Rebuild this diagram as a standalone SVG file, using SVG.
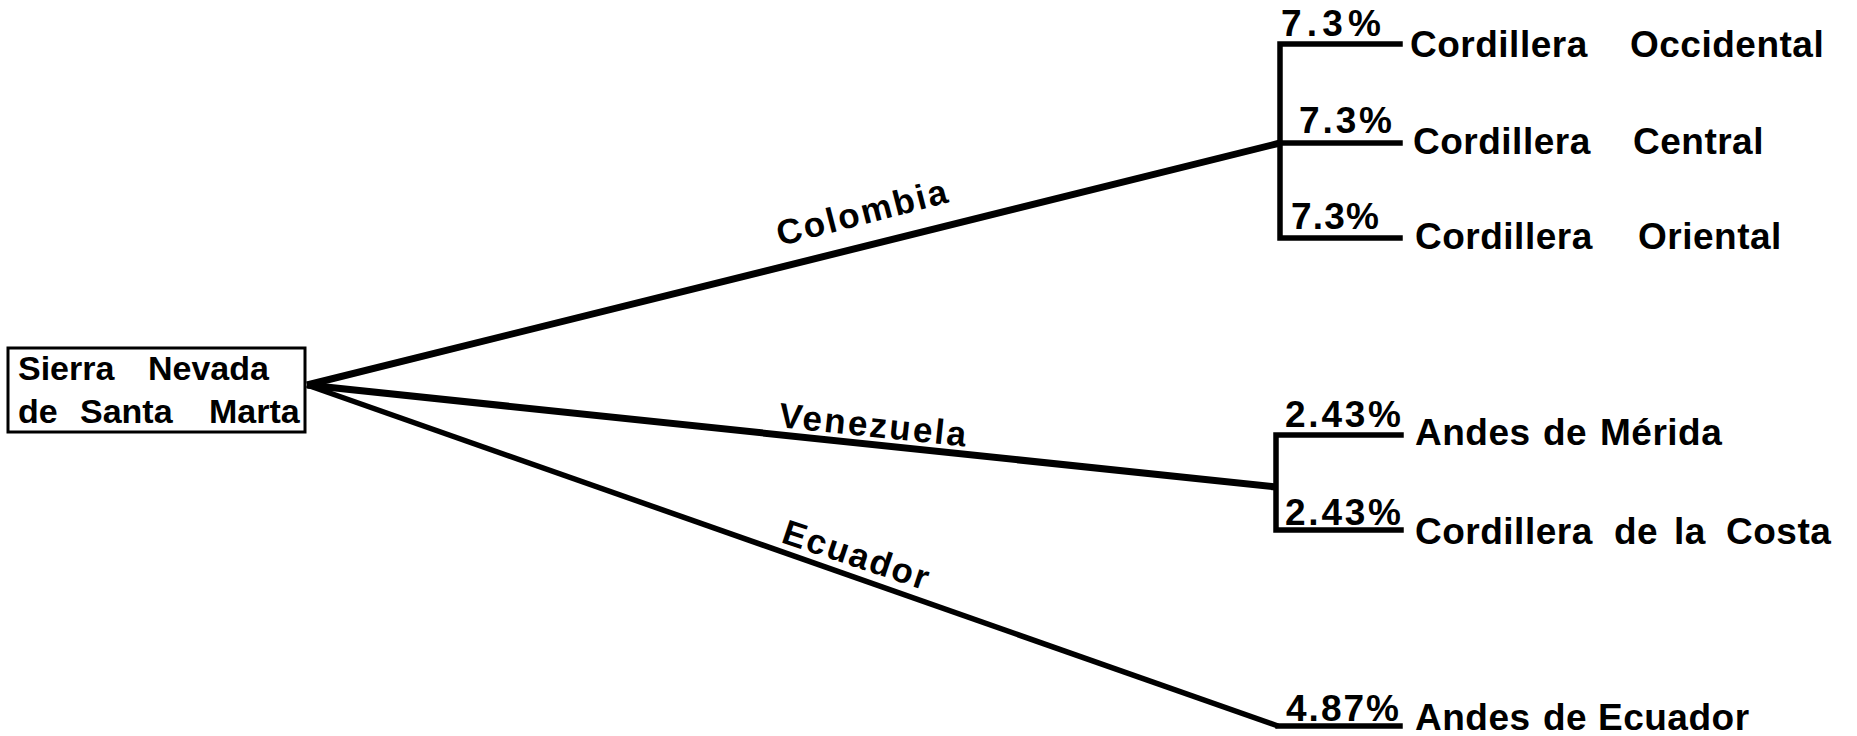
<svg xmlns="http://www.w3.org/2000/svg" width="1857" height="736" viewBox="0 0 1857 736">
<style>
  .t{font-family:"Liberation Sans",Arial,Helvetica,sans-serif;font-weight:bold;fill:#000}
  .pct{font-size:37px}
  .name{font-size:37px;letter-spacing:0.5px}
  .edge{font-size:35px}
  .boxt{font-size:34px}
  .conn{stroke:#000;fill:none;stroke-linecap:butt}
  .br{stroke:#000;fill:none;stroke-width:5.5;stroke-linecap:square}
</style>
<rect width="1857" height="736" fill="#fff"/>

<g id="connectors">
  <line class="conn" x1="307" y1="385" x2="1280" y2="143" stroke-width="7"/>
  <line class="conn" x1="307" y1="385" x2="1276" y2="487" stroke-width="7"/>
  <line class="conn" x1="307" y1="385" x2="1278" y2="726" stroke-width="5.5"/>
  <polyline class="br" points="1400,44 1280,44 1280,238 1400,238"/>
  <line class="br" x1="1280" y1="143" x2="1400" y2="143"/>
  <polyline class="br" points="1401,435 1276,435 1276,530 1401,530"/>
  <line class="br" x1="1278" y1="726" x2="1400" y2="726"/>
  <text class="t edge" x="780" y="246" textLength="175" lengthAdjust="spacing" transform="rotate(-14.5 780 246)">Colombia</text>
  <text class="t edge" x="778" y="427" textLength="188" lengthAdjust="spacing" transform="rotate(6 778 427)">Venezuela</text>
  <text class="t edge" x="780" y="542" textLength="152" lengthAdjust="spacing" transform="rotate(18.5 780 542)">Ecuador</text>
</g>

<g id="node-sierra-nevada">
  <rect x="8" y="348" width="297" height="84" fill="#fff" stroke="#000" stroke-width="3"/>
  <text class="t boxt" y="380"><tspan x="18">Sierra</tspan><tspan x="148">Nevada</tspan></text>
  <text class="t boxt" y="423"><tspan x="18">de</tspan><tspan x="80">Santa</tspan><tspan x="209">Marta</tspan></text>
</g>

<g id="node-cordillera-occidental">
  <text class="t pct" x="1281" y="36" textLength="100" lengthAdjust="spacing">7.3%</text>
  <text class="t name" y="57"><tspan x="1410">Cordillera</tspan><tspan x="1630">Occidental</tspan></text>
</g>

<g id="node-cordillera-central">
  <text class="t pct" x="1299" y="133" textLength="93" lengthAdjust="spacing">7.3%</text>
  <text class="t name" y="154"><tspan x="1413">Cordillera</tspan><tspan x="1633">Central</tspan></text>
</g>

<g id="node-cordillera-oriental">
  <text class="t pct" x="1291" y="229" textLength="88" lengthAdjust="spacing">7.3%</text>
  <text class="t name" y="249"><tspan x="1415">Cordillera</tspan><tspan x="1638">Oriental</tspan></text>
</g>

<g id="node-andes-merida">
  <text class="t pct" x="1285" y="427" textLength="116" lengthAdjust="spacing">2.43%</text>
  <text class="t name" y="445"><tspan x="1415">Andes</tspan><tspan x="1543">de</tspan><tspan x="1600">Mérida</tspan></text>
</g>

<g id="node-cordillera-costa">
  <text class="t pct" x="1285" y="525" textLength="116" lengthAdjust="spacing">2.43%</text>
  <text class="t name" y="544"><tspan x="1415">Cordillera</tspan><tspan x="1614">de</tspan><tspan x="1674">la</tspan><tspan x="1726">Costa</tspan></text>
</g>

<g id="node-andes-ecuador">
  <text class="t pct" x="1286" y="721" textLength="113" lengthAdjust="spacing">4.87%</text>
  <text class="t name" y="730"><tspan x="1415">Andes</tspan><tspan x="1543">de</tspan><tspan x="1598">Ecuador</tspan></text>
</g>
</svg>
